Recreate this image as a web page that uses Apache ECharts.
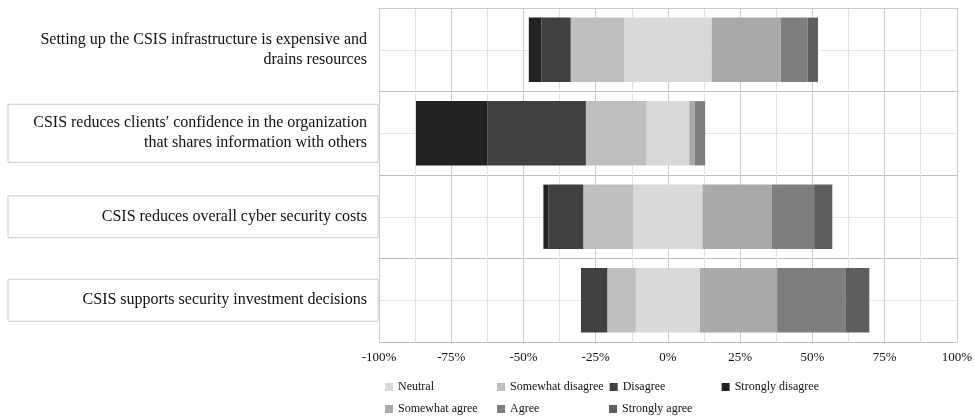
<!DOCTYPE html>
<html>
<head>
<meta charset="utf-8">
<script src="https://cdn.jsdelivr.net/npm/echarts@6/dist/echarts.min.js"></script>
<style>
  html, body { margin: 0; padding: 0; background: #ffffff; }
  #chart { width: 975px; height: 419px; }
</style>
</head>
<body>
<div id="chart"></div>
<script>
// Survey statements, top to bottom
var statements = [
  'Setting up the CSIS infrastructure is expensive and\ndrains resources',
  'CSIS reduces clients\u2032 confidence in the organization\nthat shares information with others',
  'CSIS reduces overall cyber security costs',
  'CSIS supports security investment decisions'
];

// Share of respondents (%) per answer, one value per statement
var neutral          = [30.3, 14.8, 24.0, 22.2];
var somewhatDisagree = [18.5, 21.0, 17.3,  9.9];
var disagree         = [10.1, 34.1, 12.1,  9.1];
var stronglyDisagree = [ 4.4, 24.7,  1.7,  0.0];
var somewhatAgree    = [23.9,  1.9, 23.9, 26.7];
var agree            = [ 9.3,  3.6, 14.7, 23.8];
var stronglyAgree    = [ 3.6,  0.0,  6.3,  8.1];

var axisTicks = [-100, -75, -50, -25, 0, 25, 50, 75, 100];

var legendOrder = ['Neutral', 'Somewhat disagree', 'Disagree', 'Strongly disagree',
                   'Somewhat agree', 'Agree', 'Strongly agree'];

var colors = {
  'Neutral': '#d9d9d9',
  'Somewhat disagree': '#bfbfbf',
  'Disagree': '#404040',
  'Strongly disagree': '#222222',
  'Somewhat agree': '#a9a9a9',
  'Agree': '#7e7e7e',
  'Strongly agree': '#5e5e5e'
};

var SERIF = '"Liberation Serif", "DejaVu Serif", serif';

// Neutral answers are split evenly across the zero line;
// disagreement stacks to the left, agreement to the right.
function half(arr, sign) { return arr.map(function (v) { return sign * v / 2; }); }
function neg(arr) { return arr.map(function (v) { return -v; }); }

function barSeries(name, values) {
  return {
    name: name,
    type: 'bar',
    stack: 'likert',
    barCategoryGap: '23%',
    itemStyle: { color: colors[name] },
    emphasis: { disabled: true },
    data: values
  };
}

var series = [
  barSeries('Neutral', half(neutral, -1)),
  barSeries('Somewhat disagree', neg(somewhatDisagree)),
  barSeries('Disagree', neg(disagree)),
  barSeries('Strongly disagree', neg(stronglyDisagree)),
  barSeries('Neutral', half(neutral, 1)),
  barSeries('Somewhat agree', somewhatAgree),
  barSeries('Agree', agree),
  barSeries('Strongly agree', stronglyAgree)
];

// Statement labels; all but the first sit in an outlined box
var categoryData = statements.map(function (s, i) {
  var twoLines = s.indexOf('\n') >= 0;
  var vpad = twoLines ? 9 : 11;
  return {
    value: s,
    textStyle: {
      borderColor: i === 0 ? 'transparent' : '#cccccc',
      borderWidth: 1,
      padding: [vpad + 1, 11, vpad - 1, 0],
      width: 359
    }
  };
});

var chart = echarts.init(document.getElementById('chart'), null, { renderer: 'canvas' });

chart.setOption({
  animation: false,
  backgroundColor: '#ffffff',
  grid: { left: 379, right: 18, top: 8, bottom: 77, containLabel: false },
  legend: {
    data: legendOrder,
    left: 385,
    top: 379,
    width: 455,
    padding: 0,
    itemWidth: 8,
    itemHeight: 8,
    itemGap: 6,
    icon: 'rect',
    selectedMode: false,
    textStyle: {
      fontFamily: SERIF,
      fontSize: 12,
      color: '#111111',
      width: 93,
      lineHeight: 16
    }
  },
  xAxis: {
    type: 'value',
    min: axisTicks[0],
    max: axisTicks[axisTicks.length - 1],
    interval: 25,
    axisLine: { show: true, lineStyle: { color: '#c8c8c8' } },
    axisTick: { show: true, length: 4, lineStyle: { color: '#c8c8c8' } },
    minorTick: { show: false, splitNumber: 2 },
    splitLine: { show: true, lineStyle: { color: '#cbcbcb', width: 1 } },
    minorSplitLine: { show: true, lineStyle: { color: '#e2e2e2', width: 1 } },
    axisLabel: {
      margin: 9,
      fontFamily: SERIF,
      fontSize: 13,
      color: '#111111',
      formatter: function (v) { return v + '%'; }
    }
  },
  yAxis: [
    {
      type: 'category',
      inverse: true,
      data: categoryData,
      axisLine: { show: false },
      axisTick: { show: false },
      splitLine: { show: false },
      axisLabel: {
        margin: 1,
        fontFamily: SERIF,
        fontSize: 16,
        lineHeight: 20,
        color: '#111111',
        align: 'right'
      }
    },
    {
      // horizontal guide lines: band edges and band centres
      type: 'value',
      inverse: true,
      min: 0,
      max: 8,
      interval: 1,
      position: 'left',
      axisLine: { show: false },
      axisTick: { show: false },
      axisLabel: { show: false },
      splitLine: { show: true, lineStyle: { color: ['#bdbdbd', '#e4e4e4'], width: 1 } }
    }
  ],
  series: series
});
</script>
</body>
</html>
